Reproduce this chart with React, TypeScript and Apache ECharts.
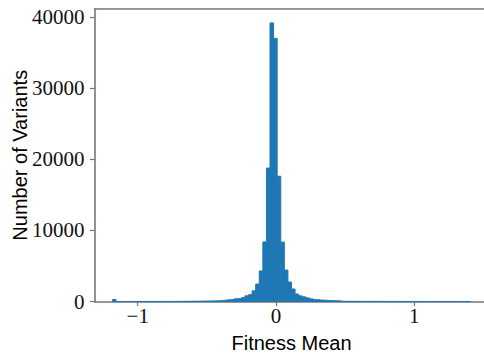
import React, { useEffect, useRef } from "react";
import * as echarts from "echarts";

// Histogram: 100 equal-width bins starting at binStart
const binStart = -1.183;
const binWidth = 0.0259;
const counts: number[] = [
  280, 6, 4, 5, 3, 4, 5, 6, 4, 7,
  6, 8, 9, 8, 10, 12, 11, 14, 15, 18,
  22, 28, 32, 38, 45, 55, 70, 75, 85, 95,
  110, 170, 230, 260, 380, 400, 540, 800, 950, 1500,
  2450, 4300, 8380, 18780, 39200, 37020, 17630, 8360, 4420, 2740,
  1760, 1050, 790, 650, 510, 370, 260, 240, 200, 180,
  130, 120, 100, 90, 30, 28, 26, 24, 22, 20,
  19, 18, 17, 16, 15, 14, 13, 12, 11, 10,
  10, 9, 9, 8, 8, 7, 7, 6, 6, 5,
  5, 5, 4, 4, 4, 3, 3, 3, 2, 2,
];
const xTicks = [-1, 0, 1];
const yTicks = [0, 10000, 20000, 30000, 40000];
const xRange = [-1.3125, 1.5365];
const yMax = 41160;

export default function App() {
  const ref = useRef<HTMLDivElement>(null);
  useEffect(() => {
    if (!ref.current) return;
    const chart = echarts.init(ref.current, null, { renderer: "svg" });
    const data = counts.map((c, k) => [
      binStart + k * binWidth,
      binStart + (k + 1) * binWidth,
      c,
    ]);
    const axisColor = "#777";
    chart.setOption({
      animation: false,
      grid: {
        left: 94.5,
        right: -4.5,
        top: 9,
        bottom: 52.5,
        containLabel: false,
        outerBoundsMode: "none",
      },
      xAxis: [
        {
          type: "value",
          min: xRange[0],
          max: xRange[1],
          splitLine: { show: false },
          axisLine: { show: true, onZero: false, lineStyle: { color: axisColor, width: 1.6 } },
          axisTick: {
            show: true,
            length: 4.5,
            customValues: xTicks,
            lineStyle: { color: axisColor, width: 1.2 },
          },
          axisLabel: {
            customValues: xTicks,
            margin: 4,
            fontFamily: "Liberation Serif",
            fontSize: 21,
            color: "#111",
            formatter: (v: number) => String(v).replace("-", "\u2212"),
          },
          name: "Fitness Mean",
          nameLocation: "middle",
          nameGap: 31,
          nameMoveOverlap: false,
          nameTextStyle: { fontFamily: "Liberation Sans", fontSize: 20, color: "#000" },
        },
        {
          type: "value",
          position: "top",
          min: xRange[0],
          max: xRange[1],
          splitLine: { show: false },
          axisLine: { show: true, onZero: false, lineStyle: { color: axisColor, width: 1.6 } },
          axisTick: { show: false },
          axisLabel: { show: false },
        },
      ],
      yAxis: {
        type: "value",
        min: 0,
        max: yMax,
        splitLine: { show: false },
        axisLine: { show: true, onZero: false, lineStyle: { color: axisColor, width: 1.6 } },
        axisTick: {
          show: true,
          length: 4.5,
          customValues: yTicks,
          lineStyle: { color: axisColor, width: 1.2 },
        },
        axisLabel: {
          customValues: yTicks,
          margin: 10,
          fontFamily: "Liberation Serif",
          fontSize: 21,
          color: "#111",
          formatter: (v: number) => String(v),
        },
        name: "Number of Variants",
        nameLocation: "middle",
        nameGap: 65,
        nameRotate: 90,
        nameMoveOverlap: false,
        nameTextStyle: { fontFamily: "Liberation Sans", fontSize: 20, color: "#000" },
      },
      series: [
        {
          type: "custom",
          xAxisIndex: 0,
          yAxisIndex: 0,
          encode: { x: [0, 1], y: 2 },
          data,
          renderItem: (params: any, api: any) => {
            const p0 = api.coord([api.value(0), api.value(2)]);
            const p1 = api.coord([api.value(1), 0]);
            return {
              type: "rect",
              shape: { x: p0[0], y: p0[1], width: p1[0] - p0[0], height: p1[1] - p0[1] },
              style: { fill: "#1f77b4", stroke: "#1f77b4", lineWidth: 1 },
            };
          },
        },
      ],
    });
    return () => chart.dispose();
  }, []);
  return (
    <div
      ref={ref}
      style={{ position: "absolute", left: 0, top: 0, width: 484, height: 354, background: "#fff" }}
    />
  );
}
